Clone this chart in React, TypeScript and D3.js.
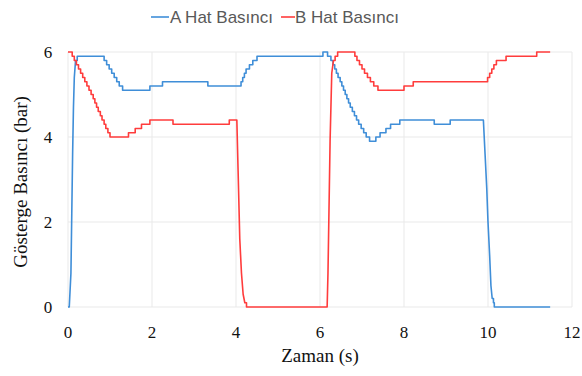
import React from "react";
import * as d3 from "d3";

// Line A pressure (bar) at the instants where the reading changes
const aTimes = [
  0, 0.03, 0.07, 0.09, 0.11, 0.13, 0.15, 0.18, 0.22,
  0.86, 0.92, 0.98, 1.04, 1.1, 1.16, 1.22, 1.3,
  1.95, 2.25, 3.33, 4.12, 4.16, 4.2, 4.24, 4.32, 4.4, 4.5,
  6.07, 6.18, 6.26, 6.31, 6.35, 6.39, 6.43, 6.48, 6.52, 6.56, 6.6, 6.64,
  6.68, 6.72, 6.77, 6.82, 6.87, 6.92, 6.98, 7.04, 7.1, 7.18,
  7.33, 7.43, 7.57, 7.68, 7.9, 8.72, 9.1,
  9.89, 9.93, 9.97, 10.0, 10.04, 10.07, 10.1, 10.13, 10.15, 11.48,
];
const aPressure = [
  0, 0, 0.8, 2.2, 3.6, 4.7, 5.4, 5.8, 5.9,
  5.8, 5.7, 5.6, 5.5, 5.4, 5.3, 5.2, 5.1,
  5.2, 5.3, 5.2, 5.3, 5.4, 5.5, 5.6, 5.7, 5.8, 5.9,
  6.0, 5.9, 5.8, 5.7, 5.6, 5.5, 5.4, 5.3, 5.2, 5.1, 5.0, 4.9,
  4.8, 4.7, 4.6, 4.5, 4.4, 4.3, 4.2, 4.1, 4.0, 3.9,
  4.0, 4.1, 4.2, 4.3, 4.4, 4.3, 4.4,
  4.4, 3.6, 2.8, 2.0, 1.2, 0.5, 0.2, 0.1, 0, 0,
];

// Line B pressure (bar) at the instants where the reading changes
const bTimes = [
  0, 0.1, 0.15, 0.2, 0.25, 0.3, 0.35, 0.4, 0.45, 0.5, 0.55, 0.6,
  0.64, 0.68, 0.72, 0.77, 0.81, 0.86, 0.9, 0.95, 1.0,
  1.44, 1.6, 1.75, 1.95, 2.5, 3.84,
  4.02, 4.05, 4.09, 4.13, 4.17, 4.21, 4.25,
  6.17, 6.19, 6.24, 6.28, 6.32, 6.36, 6.42,
  6.83, 6.88, 6.94, 7.0, 7.06, 7.13, 7.2, 7.28, 7.38,
  8.0, 8.22, 9.99, 10.04, 10.09, 10.14, 10.2, 10.43, 11.16, 11.48,
];
const bPressure = [
  6.0, 5.9, 5.8, 5.7, 5.6, 5.5, 5.4, 5.3, 5.2, 5.1, 5.0, 4.9,
  4.8, 4.7, 4.6, 4.5, 4.4, 4.3, 4.2, 4.1, 4.0,
  4.1, 4.2, 4.3, 4.4, 4.3, 4.4,
  4.4, 3.2, 1.6, 0.8, 0.3, 0.1, 0,
  0, 0.8, 3.9, 5.5, 5.8, 5.9, 6.0,
  5.9, 5.8, 5.7, 5.6, 5.5, 5.4, 5.3, 5.2, 5.1,
  5.2, 5.3, 5.4, 5.5, 5.6, 5.7, 5.8, 5.9, 6.0, 6.0,
];

const xTicks = [0, 2, 4, 6, 8, 10, 12];
const yTicks = [0, 2, 4, 6];

const seriesNames = ["A Hat Basıncı", "B Hat Basıncı"];
const seriesColors = ["#3f8ed8", "#ff3c3c"];

const W = 582;
const H = 376;

// Sensor resolution: changes of one count are held (stair), larger ones ramp.
const RESOLUTION = 0.1;

function expand(times: number[], values: number[]): [number, number][] {
  const out: [number, number][] = [];
  times.forEach((t, i) => {
    if (i > 0) {
      const dv = Math.abs(values[i] - values[i - 1]);
      if (dv > 0 && dv <= RESOLUTION + 1e-6) out.push([t, values[i - 1]]);
    }
    out.push([t, values[i]]);
  });
  return out;
}

export default function App() {
  const x = d3.scaleLinear().domain([0, 12]).range([68, 572]);
  const y = d3.scaleLinear().domain([0, 6]).range([307, 52]);

  const line = d3
    .line<[number, number]>()
    .x((d) => x(d[0]))
    .y((d) => y(d[1]));

  const paths = [
    line(expand(aTimes, aPressure)) || "",
    line(expand(bTimes, bPressure)) || "",
  ];

  const serif = "'Liberation Serif', 'Times New Roman', serif";
  const sans = "'Liberation Sans', Arial, sans-serif";

  const legendItems = [
    { lx: 151, lw: 18, tx: 170 },
    { lx: 281, lw: 14, tx: 295 },
  ];

  return (
    <svg
      width={W}
      height={H}
      style={{ position: "absolute", left: 0, top: 0, background: "#fff" }}
    >
      {/* grid */}
      <g stroke="#e9e9e9" strokeWidth={1}>
        {xTicks.map((t) => (
          <line key={"gx" + t} x1={x(t)} x2={x(t)} y1={y(6)} y2={y(0)} />
        ))}
        {yTicks.map((t) => (
          <line key={"gy" + t} x1={x(0)} x2={x(12)} y1={y(t)} y2={y(t)} />
        ))}
      </g>

      {/* tick labels */}
      <g fontFamily={serif} fontSize={17} fill="#111">
        {xTicks.map((t) => (
          <text key={"tx" + t} x={x(t)} y={338} textAnchor="middle">
            {t}
          </text>
        ))}
        {yTicks.map((t) => (
          <text key={"ty" + t} x={48} y={y(t) + 6} textAnchor="middle">
            {t}
          </text>
        ))}
      </g>

      {/* series */}
      {paths.map((d, i) => (
        <path
          key={i}
          d={d}
          fill="none"
          stroke={seriesColors[i]}
          strokeWidth={1.6}
          strokeLinejoin="round"
        />
      ))}

      {/* axis titles */}
      <text
        x={320}
        y={362}
        textAnchor="middle"
        fontFamily={serif}
        fontSize={19}
        fill="#111"
      >
        Zaman (s)
      </text>
      <text
        transform="translate(27,182) rotate(-90)"
        textAnchor="middle"
        fontFamily={serif}
        fontSize={19}
        fill="#111"
      >
        Gösterge Basıncı (bar)
      </text>

      {/* legend */}
      {legendItems.map((it, i) => (
        <g key={"lg" + i}>
          <line
            x1={it.lx}
            x2={it.lx + it.lw}
            y1={17}
            y2={17}
            stroke={seriesColors[i]}
            strokeWidth={1.6}
          />
          <text
            x={it.tx}
            y={22.5}
            fontFamily={sans}
            fontSize={17}
            fill="#595959"
          >
            {seriesNames[i]}
          </text>
        </g>
      ))}
    </svg>
  );
}
